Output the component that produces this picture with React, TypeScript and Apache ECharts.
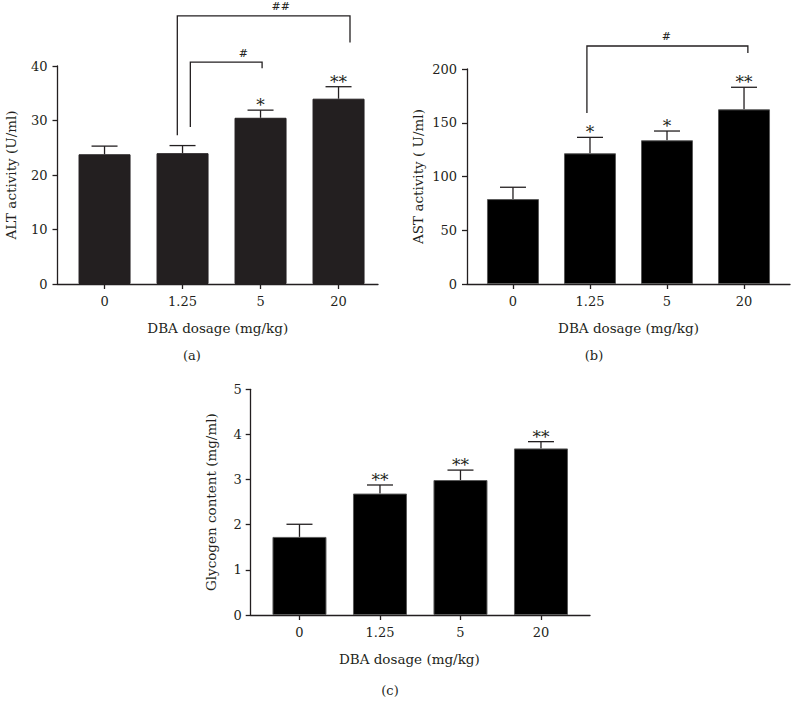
import React, { useEffect, useRef } from 'react';
import * as echarts from 'echarts';

// ---- data ----
const categories = ['0', '1.25', '5', '20'];

const altMean = [23.8, 24.0, 30.5, 34.0];
const altUpper = [25.3, 25.4, 31.9, 36.2];
const altStars = ['', '', '*', '**'];
// [leftX, rightX, topY, leftEndY, rightEndY, labelX]
const altBrackets = [
  [1.1, 2.02, 40.7, 28.8, 39.6, 1.78],
  [0.933, 3.147, 49.2, 27.3, 44.3, 2.26],
];
const altBracketLabels = ['#', '##'];

const astMean = [79, 121.6, 133.7, 162.5];
const astUpper = [90, 136.4, 142.3, 183];
const astStars = ['', '*', '*', '**'];
const astBrackets = [[0.96, 3.05, 221.4, 159.1, 214.9, 1.99]];
const astBracketLabels = ['#'];

const glyMean = [1.73, 2.69, 2.99, 3.69];
const glyUpper = [2.01, 2.88, 3.21, 3.84];
const glyStars = ['', '**', '**', '**'];

const FONT = '"DejaVu Serif", serif';
const INK = '#231f20';

type PanelCfg = {
  grid: any;
  xMin: number;
  xMax: number;
  yMax: number;
  yInterval: number;
  yName: string;
  yNameGap: number;
  xNamePad?: number[];
  yLabelMargin: number;
  mean: number[];
  upper: number[];
  stars: string[];
  brackets: number[][];
  bracketLabels: string[];
  barColor: string;
  barBorder: string;
  barWidth: number;
};

function buildPanel(i: number, c: PanelCfg) {
  const grid = { ...c.grid, containLabel: false };
  const xAxis = {
    type: 'value',
    gridIndex: i,
    min: c.xMin,
    max: c.xMax,
    splitLine: { show: false },
    axisLine: { show: true, onZero: false, lineStyle: { color: INK, width: 1.3 } },
    axisTick: { show: true, length: 5, customValues: [0, 1, 2, 3], lineStyle: { color: INK, width: 1.3 } },
    axisLabel: {
      customValues: [0, 1, 2, 3],
      formatter: (v: number) => categories[Math.round(v)] ?? '',
      color: INK,
      fontFamily: FONT,
      fontSize: 13,
      margin: 11,
    },
    name: 'DBA dosage (mg/kg)',
    nameLocation: 'middle',
    nameGap: 37,
    nameTextStyle: { color: INK, fontFamily: FONT, fontSize: 13.5, padding: c.xNamePad ?? 0 },
  };
  const yAxis = {
    type: 'value',
    gridIndex: i,
    min: 0,
    max: c.yMax,
    interval: c.yInterval,
    splitLine: { show: false },
    axisLine: { show: true, onZero: false, lineStyle: { color: INK, width: 1.3 } },
    axisTick: { show: true, length: 5, lineStyle: { color: INK, width: 1.3 } },
    axisLabel: { color: INK, fontFamily: FONT, fontSize: 13, margin: c.yLabelMargin },
    name: c.yName,
    nameLocation: 'middle',
    nameGap: c.yNameGap,
    nameTextStyle: { color: INK, fontFamily: FONT, fontSize: 13.5 },
  };
  const series: any[] = [
    {
      type: 'bar',
      xAxisIndex: i,
      yAxisIndex: i,
      barWidth: c.barWidth,
      data: c.mean.map((v, k) => [k, v]),
      itemStyle: { color: c.barColor, borderColor: c.barBorder, borderWidth: 1 },
    },
    {
      type: 'custom',
      xAxisIndex: i,
      yAxisIndex: i,
      clip: false,
      data: c.mean.map((v, k) => [k, v, c.upper[k]]),
      renderItem: (_p: any, api: any) => {
        const x = api.value(0);
        const a = api.coord([x, api.value(1)]);
        const b = api.coord([x, api.value(2)]);
        const st = { stroke: INK, lineWidth: 1.3 };
        return {
          type: 'group',
          children: [
            { type: 'line', shape: { x1: a[0], y1: a[1], x2: b[0], y2: b[1] }, style: st },
            { type: 'line', shape: { x1: b[0] - 13, y1: b[1], x2: b[0] + 13, y2: b[1] }, style: st },
          ],
        };
      },
    },
    {
      type: 'custom',
      xAxisIndex: i,
      yAxisIndex: i,
      clip: false,
      data: c.upper.map((v, k) => [k, v]),
      renderItem: (p: any, api: any) => {
        const s = c.stars[p.dataIndex];
        if (!s) return null;
        const b = api.coord([api.value(0), api.value(1)]);
        return {
          type: 'text',
          x: b[0],
          y: b[1] - 5,
          style: { text: s, fill: INK, font: `17px ${FONT}`, align: 'center', verticalAlign: 'middle' },
        };
      },
    },
  ];
  if (c.brackets.length) {
    series.push({
      type: 'custom',
      xAxisIndex: i,
      yAxisIndex: i,
      clip: false,
      encode: { x: [0, 1, 5], y: [2, 3, 4] },
      data: c.brackets,
      renderItem: (p: any, api: any) => {
        const x1 = api.value(0), x2 = api.value(1), yt = api.value(2), yl = api.value(3), yr = api.value(4), lx = api.value(5);
        const pts = [api.coord([x1, yl]), api.coord([x1, yt]), api.coord([x2, yt]), api.coord([x2, yr])];
        const lp = api.coord([lx, yt]);
        return {
          type: 'group',
          children: [
            { type: 'polyline', shape: { points: pts }, style: { stroke: INK, lineWidth: 1.3, fill: 'none' } },
            {
              type: 'text',
              x: lp[0],
              y: lp[1] - 9,
              style: { text: c.bracketLabels[p.dataIndex], fill: INK, font: `11px ${FONT}`, align: 'center', verticalAlign: 'middle' },
            },
          ],
        };
      },
    });
  }
  return { grid, xAxis, yAxis, series };
}

export default function App() {
  const ref = useRef<HTMLDivElement>(null);
  useEffect(() => {
    if (!ref.current) return;
    const chart = echarts.init(ref.current, undefined, { renderer: 'svg' });
    const panels = [
      buildPanel(0, {
        grid: { left: 57.5, top: 66, width: 320.5, height: 218 },
        xMin: -0.603, xMax: 3.506, yMax: 40, yInterval: 10,
        yName: 'ALT activity (U/ml)', yNameGap: 40, yLabelMargin: 10,
        mean: altMean, upper: altUpper, stars: altStars,
        brackets: altBrackets, bracketLabels: altBracketLabels,
        barColor: '#231f20', barBorder: '#231f20', barWidth: 52,
      }),
      buildPanel(1, {
        grid: { left: 467, top: 69, width: 323, height: 215 },
        xMin: -0.597, xMax: 3.597, yMax: 200, yInterval: 50,
        yName: 'AST activity ( U/ml)', yNameGap: 42, yLabelMargin: 10,
        mean: astMean, upper: astUpper, stars: astStars,
        brackets: astBrackets, bracketLabels: astBracketLabels,
        barColor: '#000000', barBorder: '#5a5a5a', barWidth: 52,
      }),
      buildPanel(2, {
        grid: { left: 250.7, top: 389.3, width: 339.3, height: 225.7 },
        xMin: -0.606, xMax: 3.609, yMax: 5, yInterval: 1,
        yName: 'Glycogen content (mg/ml)', yNameGap: 33, yLabelMargin: 9,
        xNamePad: [0, 22, 0, 0],
        mean: glyMean, upper: glyUpper, stars: glyStars,
        brackets: [], bracketLabels: [],
        barColor: '#000000', barBorder: '#5a5a5a', barWidth: 54,
      }),
    ];
    chart.setOption({
      animation: false,
      backgroundColor: '#ffffff',
      grid: panels.map((p) => p.grid),
      xAxis: panels.map((p) => p.xAxis),
      yAxis: panels.map((p) => p.yAxis),
      series: panels.flatMap((p) => p.series),
      graphic: [
        { type: 'text', x: 192, y: 355, style: { text: '(a)', fill: INK, font: `13px ${FONT}`, align: 'center', verticalAlign: 'middle' } },
        { type: 'text', x: 594, y: 355, style: { text: '(b)', fill: INK, font: `13px ${FONT}`, align: 'center', verticalAlign: 'middle' } },
        { type: 'text', x: 390, y: 690, style: { text: '(c)', fill: INK, font: `13px ${FONT}`, align: 'center', verticalAlign: 'middle' } },
      ],
    });
    return () => chart.dispose();
  }, []);
  return (
    <div
      ref={ref}
      style={{ position: 'absolute', left: 0, top: 0, width: 791, height: 711, background: '#fff' }}
    />
  );
}
